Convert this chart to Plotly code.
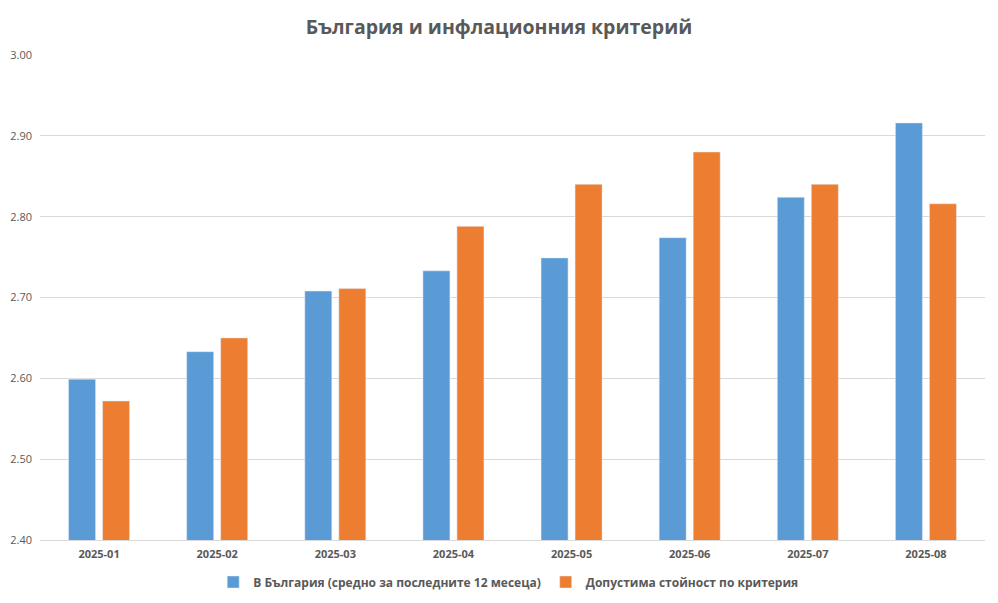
import plotly.graph_objects as go

months = ["2025-01", "2025-02", "2025-03", "2025-04", "2025-05", "2025-06", "2025-07", "2025-08"]
bulgaria = [2.599, 2.633, 2.708, 2.733, 2.749, 2.774, 2.824, 2.916]
criterion = [2.572, 2.650, 2.711, 2.788, 2.840, 2.880, 2.840, 2.816]

font = "Open Sans, Liberation Sans, sans-serif"
grey = "#595959"

fig = go.Figure()
fig.add_trace(go.Bar(x=months, y=bulgaria, name="<b>В България (средно за последните 12 месеца)</b>",
                     marker_color="#5b9bd5"))
fig.add_trace(go.Bar(x=months, y=criterion, name="<b>Допустима стойност по критерия</b>",
                     marker_color="#ed7d31"))

# page body adds an 8px offset, so margins are shifted to compensate
fig.update_layout(
    width=998, height=603,
    paper_bgcolor="white", plot_bgcolor="white",
    margin=dict(l=32, r=21, t=47, b=71, autoexpand=False),
    barmode="group", bargap=0.424, bargroupgap=0.206,
    title=dict(text="<b>България и инфлационния критерий</b>", x=0.5 - 8 / 998, xanchor="center",
               yref="container", y=1 - 19 / 603, yanchor="middle",
               font=dict(family=font, size=19.5, color=grey)),
    legend=dict(orientation="h", x=0.5 - 4 / 998, xanchor="center", yref="container",
                y=1 - 574 / 603, yanchor="middle",
                font=dict(family=font, size=12, color=grey), itemwidth=30),
    font=dict(family=font, color=grey),
)
fig.update_yaxes(range=[2.40, 3.00], dtick=0.1, tickformat=".2f", showgrid=True,
                 gridcolor="#d9d9d9", gridwidth=1, zeroline=False, showline=False,
                 tickfont=dict(family=font, size=11, color=grey), ticks="", ticklen=0,
                 ticklabelstandoff=7)
fig.update_xaxes(type="category", showline=True, linecolor="#d9d9d9", linewidth=1, ticks="",
                 tickfont=dict(family=font, size=11, color=grey), tickprefix="<b>", ticksuffix="</b>",
                 ticklabelstandoff=4)

fig.write_html("out.html")
